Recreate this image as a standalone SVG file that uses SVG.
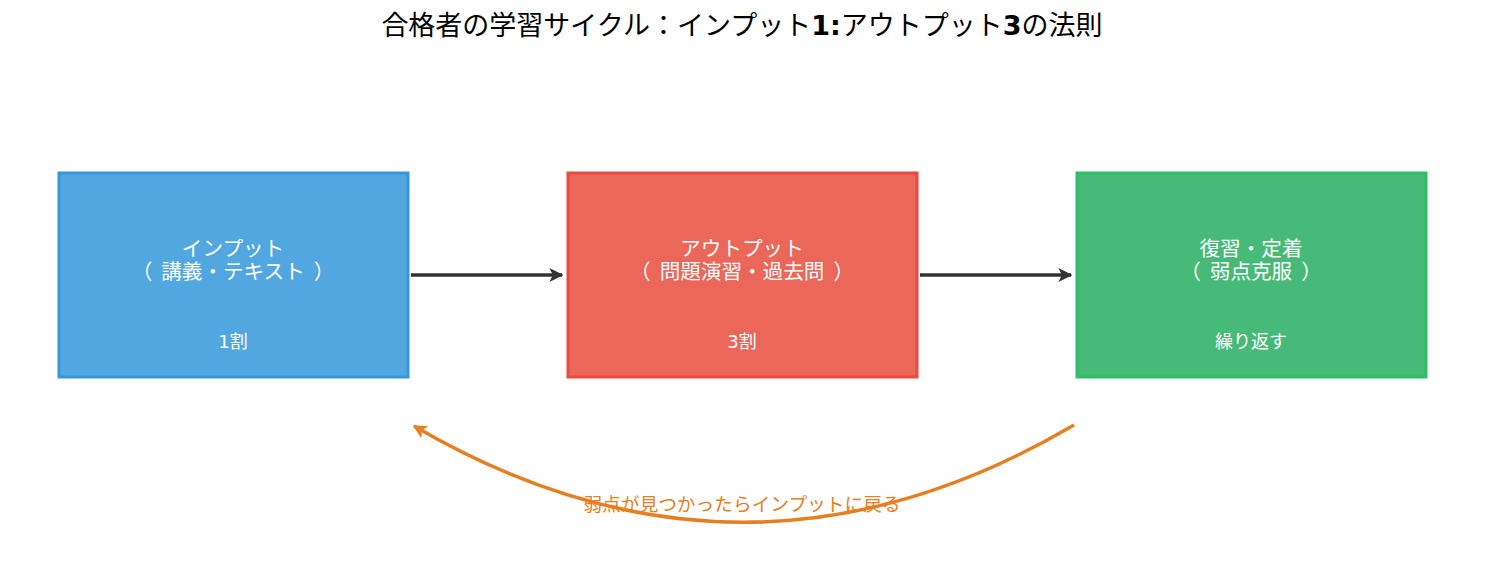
<svg xmlns="http://www.w3.org/2000/svg" width="1485" height="584" viewBox="0 0 1485 584">
<style>
text{font-family:"DejaVu Sans","Noto Sans CJK JP",sans-serif;text-anchor:middle}
.t{fill:#fff;font-size:20.6px}
.s{fill:#fff;font-size:18px}
.box{stroke-width:3}
.conn{fill:none;stroke:#333;stroke-width:3.5}
</style>
<defs>
<marker id="ah" viewBox="0 0 10 10" refX="9" refY="5" markerWidth="4" markerHeight="4" orient="auto" markerUnits="strokeWidth">
<path d="M0,0 L10,5 L0,10 L2.5,5 z" fill="#333"/>
</marker>
<marker id="ao" viewBox="0 0 10 10" refX="9" refY="5" markerWidth="4" markerHeight="4" orient="auto" markerUnits="strokeWidth">
<path d="M0,0 L10,5 L0,10 L2.5,5 z" fill="#e67e22"/>
</marker>
</defs>
<rect width="1485" height="584" fill="#fff"/>
<text x="742" y="35" style="font-size:27px;fill:#000">合格者の学習サイクル：インプット<tspan font-weight="bold">1:</tspan>アウトプット<tspan font-weight="bold">3</tspan>の法則</text>
<g id="input">
<rect class="box" x="59" y="173" width="349" height="204" fill="#52a7e0" stroke="#3498db"/>
<text class="t" x="233" y="256">インプット</text>
<text class="t" x="233" y="279">（<tspan dx="9">講義・テキスト</tspan><tspan dx="9">）</tspan></text>
<text class="s" x="233" y="348">1割</text>
</g>
<g id="output">
<rect class="box" x="568" y="173" width="349" height="204" fill="#ea6759" stroke="#e74c3c"/>
<text class="t" x="742" y="256">アウトプット</text>
<text class="t" x="742" y="279">（<tspan dx="9">問題演習・過去問</tspan><tspan dx="9">）</tspan></text>
<text class="s" x="742" y="348">3割</text>
</g>
<g id="review">
<rect class="box" x="1077" y="173" width="349" height="204" fill="#47ba78" stroke="#2ebd68"/>
<text class="t" x="1251" y="256">復習・定着</text>
<text class="t" x="1251" y="279">（<tspan dx="9">弱点克服</tspan><tspan dx="9">）</tspan></text>
<text class="s" x="1251" y="348">繰り返す</text>
</g>
<g id="connectors">
<line class="conn" x1="411" y1="275" x2="562" y2="275" marker-end="url(#ah)"/>
<line class="conn" x1="920" y1="275" x2="1071" y2="275" marker-end="url(#ah)"/>
<path d="M1074,425 Q744,619 414,426" fill="none" stroke="#e67e22" stroke-width="3.5" marker-end="url(#ao)"/>
<text x="742" y="511" style="font-size:18.7px;fill:#e67e22">弱点が見つかったらインプットに戻る</text>
</g>
</svg>
